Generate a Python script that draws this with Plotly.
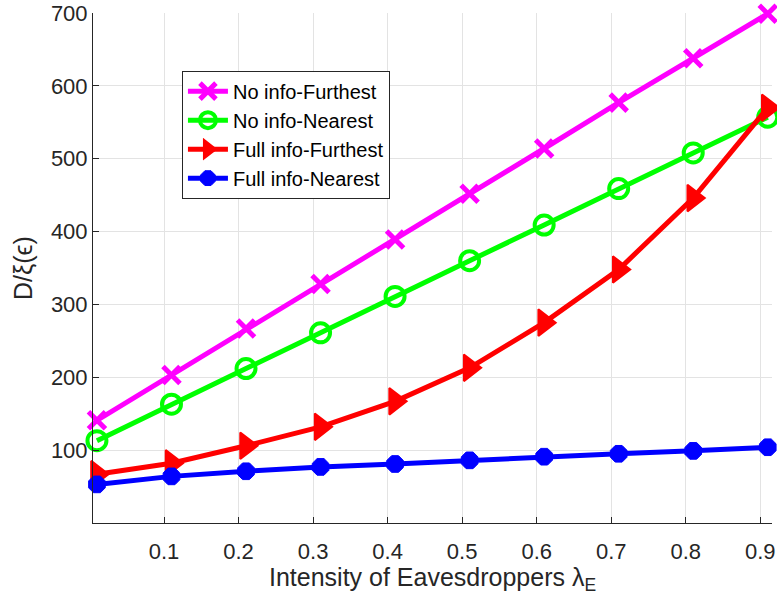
import plotly.graph_objects as go

# Eavesdropper intensity values
lambda_e = [0.01, 0.11, 0.21, 0.31, 0.41, 0.51, 0.61, 0.71, 0.81, 0.91]

# D / xi(eps) for each strategy
no_info_furthest = [141, 203, 267, 328, 389, 452, 514, 577, 638, 699]
no_info_nearest = [113, 163, 212, 261, 311, 360, 409, 459, 508, 557]
full_info_furthest = [67, 82, 106, 132, 167, 213, 275, 348, 446, 570]
full_info_nearest = [53, 64, 71, 77, 81, 86, 91, 95, 99, 104]

x_ticks = [0.1, 0.2, 0.3, 0.4, 0.5, 0.6, 0.7, 0.8, 0.9]
y_ticks = [100, 200, 300, 400, 500, 600, 700]

font_name = "Liberation Sans, Arial, sans-serif"
ink = "#262626"

fig = go.Figure()

series = [
    ("No info-Furthest", no_info_furthest, "#ff00ff",
     dict(symbol="x-thin-open", size=17, line=dict(width=5, color="#ff00ff"))),
    ("No info-Nearest", no_info_nearest, "#00ff00",
     dict(symbol="circle-open", size=19, line=dict(width=4, color="#00ff00"))),
    ("Full info-Furthest", full_info_furthest, "#ff0000",
     dict(symbol="triangle-right", size=23, color="#ff0000",
          line=dict(width=2, color="#ff0000"))),
    ("Full info-Nearest", full_info_nearest, "#0000ff",
     dict(symbol="octagon", size=18, color="#0000ff",
          line=dict(width=1, color="#0000ff"))),
]

for name, vals, color, marker in series:
    fig.add_trace(go.Scatter(
        x=lambda_e,
        y=vals,
        mode="lines+markers",
        name=name,
        line=dict(color=color, width=5),
        marker=marker,
        cliponaxis=False,
    ))

fig.update_layout(
    width=777,
    height=607,
    margin=dict(l=93, r=5, t=13, b=84),
    paper_bgcolor="white",
    plot_bgcolor="white",
    font=dict(family=font_name, color=ink),
    showlegend=True,
    legend=dict(
        x=0.131, y=0.887, xanchor="left", yanchor="top",
        bgcolor="white", bordercolor=ink, borderwidth=1,
        font=dict(size=20, color="black"),
        itemwidth=40,
    ),
    xaxis=dict(
        range=[0.0047, 0.9157],
        tickvals=x_ticks,
        ticktext=[f"{v:.1f}" for v in x_ticks],
        ticks="inside", ticklen=6, tickcolor=ink,
        ticklabelstandoff=9,
        showline=True, linecolor=ink, linewidth=1,
        showgrid=True, gridcolor="#e3e3e3", gridwidth=1,
        zeroline=False,
        tickfont=dict(size=22, color=ink),
        automargin=False,
    ),
    yaxis=dict(
        range=[0, 700],
        tickvals=y_ticks,
        ticks="inside", ticklen=6, tickcolor=ink,
        ticklabeloverflow="allow",
        showline=True, linecolor=ink, linewidth=1,
        showgrid=True, gridcolor="#e3e3e3", gridwidth=1,
        zeroline=False,
        tickfont=dict(size=22, color=ink),
        automargin=False,
    ),
    annotations=[
        dict(text="Intensity of Eavesdroppers λ<sub>E</sub>",
             xref="paper", yref="paper", x=0.5, y=-0.075,
             xanchor="center", yanchor="top", showarrow=False,
             font=dict(size=25, color=ink)),
        dict(text="D/ξ(ϵ)",
             xref="paper", yref="paper", x=-0.103, y=0.5,
             xanchor="center", yanchor="middle", textangle=-90,
             showarrow=False, font=dict(size=25, color=ink)),
    ],
)

# drop the default body margin so the figure sits at the page's top-left
fig.write_html(
    "out.html",
    config={"displayModeBar": False},
    post_script="document.body.style.margin='0';",
)
